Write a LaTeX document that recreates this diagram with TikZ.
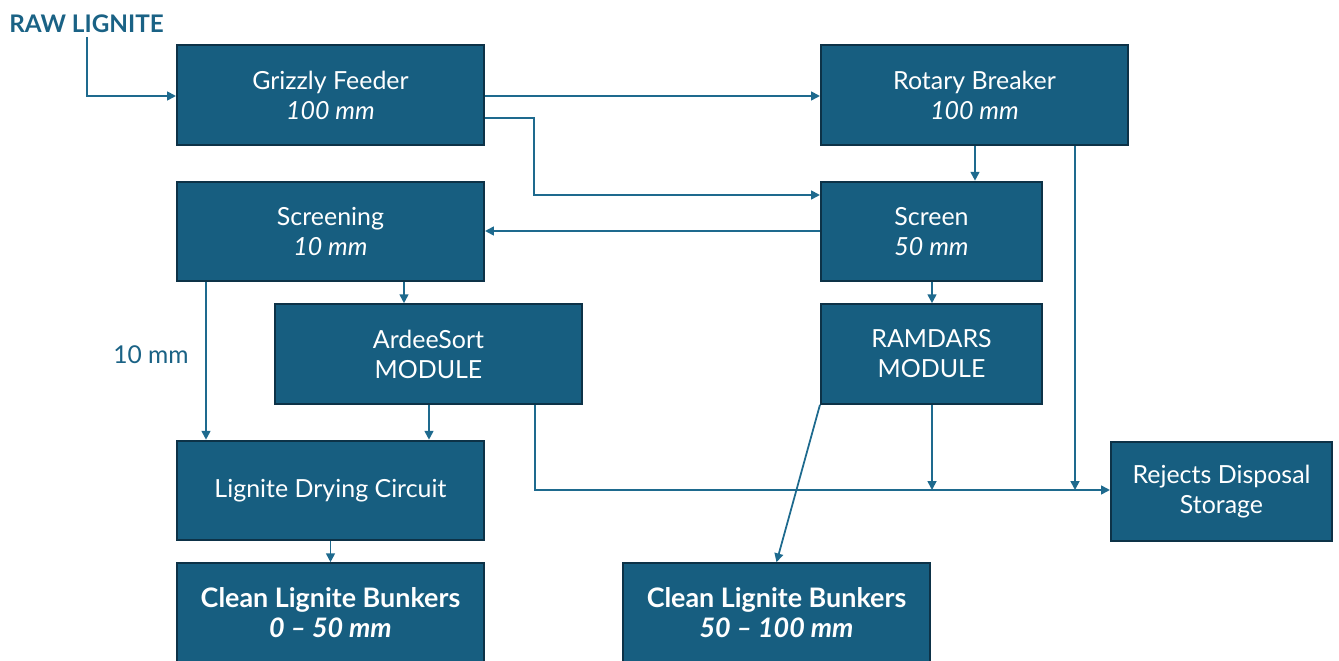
\documentclass[tikz,border=0pt]{standalone}
\usepackage{fontspec}
\setmainfont{Lato}
\usetikzlibrary{arrows.meta}
\definecolor{boxfill}{HTML}{175E80}
\definecolor{boxline}{HTML}{0D3247}
\definecolor{arrcol}{HTML}{1E6A8E}
\definecolor{labcol}{HTML}{1A6285}
\begin{document}
\begin{tikzpicture}[x=0.02cm,y=-0.02cm,
 box/.style={draw=boxline, line width=1.2pt, fill=boxfill, text=white, align=center, inner sep=0pt, minimum height=1.99cm, font=\fontsize{14.2}{17}\selectfont},
 wide/.style={box, minimum width=6.14cm},
 narrow/.style={box, minimum width=4.42cm},
 bold/.style={font=\bfseries\fontsize{15.3}{17}\selectfont},
 arr/.style={draw=arrcol, line width=1pt, -{Triangle[length=5pt,width=5pt]}},
 lbl/.style={text=labcol, font=\fontsize{14}{17}\selectfont}]
\useasboundingbox (0,0) rectangle (1339,661);
\clip (0,0) rectangle (1339,661);
\node[lbl, font=\bfseries\fontsize{13.8}{17}\selectfont] (raw) at (86.5,24) {RAW LIGNITE};
\node[wide] (gf) at (330.5,95) {Grizzly Feeder\\\textit{100 mm}};
\node[wide] (rb) at (974.5,95) {Rotary Breaker\\\textit{100 mm}};
\node[wide] (sg) at (330.5,231.5) {Screening\\\textit{10 mm}};
\node[narrow] (sc) at (931.5,231.5) {Screen\\\textit{50 mm}};
\node[wide] (as) at (428.5,354) {ArdeeSort\\MODULE};
\node[narrow] (rm) at (931.5,354) {RAMDARS\\MODULE};
\node[wide] (dr) at (330.5,490.5) {Lignite Drying Circuit};
\node[narrow] (rj) at (1221.5,491.5) {Rejects Disposal\\Storage};
\node[wide, bold] (b1) at (330.5,613) {Clean Lignite Bunkers\\\textit{0 – 50 mm}};
\node[wide, bold] (b2) at (776.5,613) {Clean Lignite Bunkers\\\textit{50 – 100 mm}};
\node[lbl] (tenmm) at (151,355) {10 mm};
% coordinates
\coordinate (c87) at (87,37);
\coordinate (y96) at (0,96);
\coordinate (y118) at (0,118);
\coordinate (x534) at (534,0);
\coordinate (y195) at (0,195);
\coordinate (y231) at (0,231);
\coordinate (x975) at (975,0);
\coordinate (x1075) at (1075,0);
\coordinate (x404) at (404,0);
\coordinate (x206) at (206,0);
\coordinate (x429) at (429,0);
\coordinate (x535) at (535,0);
\coordinate (x932) at (932,0);
\coordinate (y490) at (0,490);
% connectors
\draw[arr] (c87) -- (c87 |- y96) -- (gf.west |- y96);
\draw[arr] (gf.east |- y96) -- (rb.west |- y96);
\draw[arr] (gf.east |- y118) -- (x534 |- y118) -- (x534 |- y195) -- (sc.west |- y195);
\draw[arr] (sc.west |- y231) -- (sg.east |- y231);
\draw[arr] (rb.south -| x975) -- (sc.north -| x975);
\draw[arr] (rb.south -| x1075) -- (x1075 |- y490);
\draw[arr] (sg.south -| x404) -- (as.north -| x404);
\draw[arr] (sg.south -| x206) -- (dr.north -| x206);
\draw[arr] (as.south -| x429) -- (dr.north -| x429);
\draw[arr] (as.south -| x535) -- (x535 |- y490) -- (rj.west |- y490);
\draw[arr] (sc.south -| x932) -- (rm.north -| x932);
\draw[arr] (rm.south -| x932) -- (x932 |- y490);
\draw[arr] (rm.south west) -- (b2.north);
\draw[arr] (dr.south) -- (b1.north);
\end{tikzpicture}
\end{document}
